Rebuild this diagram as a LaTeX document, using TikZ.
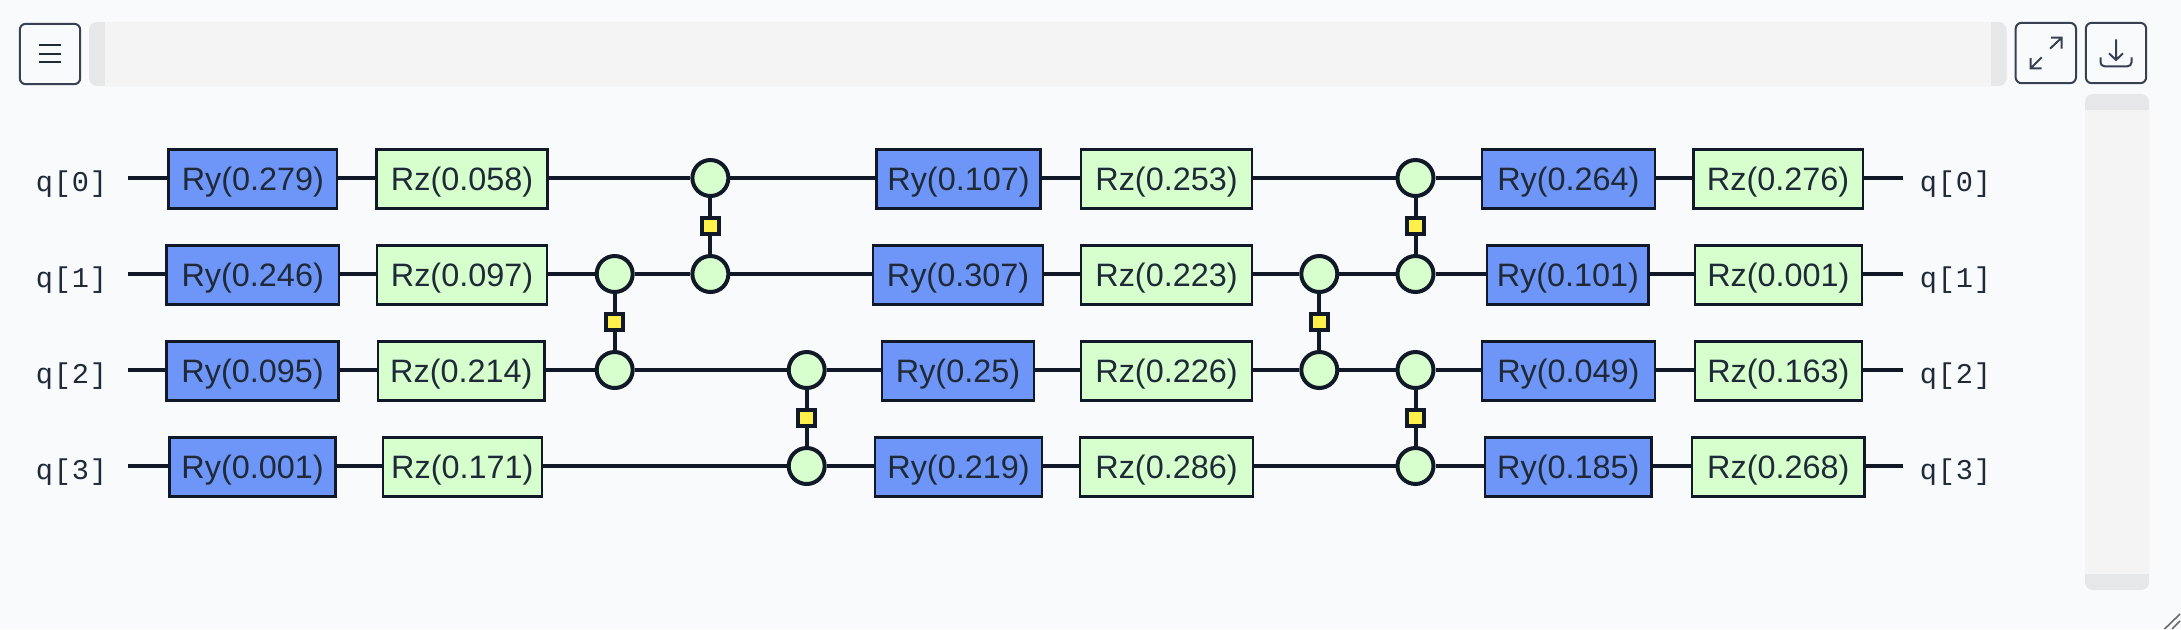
\documentclass[tikz,border=0pt]{standalone}
\usepackage{fontspec}
\usetikzlibrary{calc}
\setmainfont{Liberation Sans}
\newfontfamily\labelmono[LetterSpace=3]{Liberation Mono}
\definecolor{bgc}{HTML}{F9FAFC}
\definecolor{ink}{HTML}{111827}
\definecolor{txt}{HTML}{1F2937}
\definecolor{btn}{HTML}{374151}
\definecolor{bluec}{HTML}{6E96F8}
\definecolor{greenc}{HTML}{D7FFCD}
\definecolor{yellowc}{HTML}{FFF14A}
\definecolor{trackc}{HTML}{F4F4F4}
\definecolor{capc}{HTML}{E6E7E9}
\definecolor{gripc}{HTML}{6B6B6B}
\tikzset{
  x=0.5pt,y=-0.5pt,
  gatebox/.style={draw=ink,line width=1.2pt,rectangle,inner sep=0pt,minimum height=59*0.5pt,
    text=txt,font=\fontsize{16.2pt}{18pt}\selectfont,text height=11.5pt,text depth=0pt,align=center},
  rygate/.style={gatebox,fill=bluec},
  rzgate/.style={gatebox,fill=greenc},
  ctrl/.style={circle,draw=ink,line width=2pt,fill=greenc,inner sep=0pt,minimum size=18pt},
  link/.style={rectangle,draw=ink,line width=2pt,fill=yellowc,inner sep=0pt,minimum width=8.5pt,minimum height=8pt},
  wire/.style={draw=ink,line width=2pt},
  qlabel/.style={inner sep=0pt,text=txt,font=\labelmono\fontsize{14.3pt}{18pt}\selectfont,text height=9.6pt,text depth=0pt},
  tool/.style={rectangle,rounded corners=3pt,draw=btn,line width=1pt,inner sep=0pt,minimum width=30.2pt,minimum height=30.2pt},
  icon/.style={draw=btn,line width=1pt},
  iconb/.style={draw=txt,line width=1pt},
}
\newcommand{\gate}[6]{% name, x1, x2, row y, style, text
  \node[#5,minimum width={(#3-#2-2.4)*0.5pt}] (#1) at ({(#2+#3)/2},#4+0.8) {#6};
}
\begin{document}
\begin{tikzpicture}
\useasboundingbox (0,0) rectangle (2181,629);
\fill[bgc] (0,0) rectangle (2181,629);

% top scroll track
\fill[capc,rounded corners=4pt] (89,22) rectangle (2006.7,86);
\fill[trackc] (105,22) rectangle (1991,86);
% side scroll track
\fill[capc,rounded corners=4pt] (2085,94) rectangle (2149,590);
\fill[trackc] (2085,110) rectangle (2149,574);

% toolbar buttons
\node[tool] (menu) at (50,54) {};
\node[tool] (expand) at (2045.8,53) {};
\node[tool] (save) at (2116,53) {};
\draw[iconb] (39.3,45) -- (60.7,45) (39.3,53.5) -- (60.7,53.5) (39.3,62) -- (60.7,62);
\draw[icon] (2050,48.7) -- (2061.7,37.7) (2051,37.7) -- (2061.7,37.7) -- (2061.7,48.5);
\draw[icon] (2041.7,57.3) -- (2030.7,68.3) (2030.7,58) -- (2030.7,68.3) -- (2041.5,68.3);
\draw[icon] (2116,39.3) -- (2116,60) (2109,53.3) -- (2116,60) -- (2123,53.3);
\draw[icon,rounded corners=2pt] (2100.5,57.3) -- (2100.5,66.3) -- (2131.5,66.3) -- (2131.5,57.3);

% resize grip
\draw[gripc,line width=0.8pt] (2180,614) -- (2164.5,629) (2180,621) -- (2172,629);

% wire ends
\foreach \r/\y in {0/178,1/274,2/370,3/466}{
  \coordinate (in\r) at (128,\y);
  \coordinate (out\r) at (1903,\y);
  \node[qlabel,anchor=base west] (ql\r) at (35.5,\y+13.5) {q[\r]};
  \node[qlabel,anchor=base west] (qr\r) at (1919.5,\y+13.5) {q[\r]};
}

% row 0
\gate{a0}{167.4}{338.4}{178}{rygate}{Ry(0.279)}
\gate{b0}{375.4}{548.7}{178}{rzgate}{Rz(0.058)}
\gate{c0}{875.3}{1041.7}{178}{rygate}{Ry(0.107)}
\gate{d0}{1080}{1253}{178}{rzgate}{Rz(0.253)}
\gate{e0}{1480.8}{1656}{178}{rygate}{Ry(0.264)}
\gate{f0}{1692.2}{1864}{178}{rzgate}{Rz(0.276)}
% row 1
\gate{a1}{165.2}{340.2}{274}{rygate}{Ry(0.246)}
\gate{b1}{376}{548}{274}{rzgate}{Rz(0.097)}
\gate{c1}{872}{1044}{274}{rygate}{Ry(0.307)}
\gate{d1}{1080}{1253}{274}{rzgate}{Rz(0.223)}
\gate{e1}{1486}{1649.8}{274}{rygate}{Ry(0.101)}
\gate{f1}{1693.9}{1862.9}{274}{rzgate}{Rz(0.001)}
% row 2
\gate{a2}{165.3}{339.8}{370}{rygate}{Ry(0.095)}
\gate{b2}{377}{545.7}{370}{rzgate}{Rz(0.214)}
\gate{c2}{881}{1035}{370}{rygate}{Ry(0.25)}
\gate{d2}{1080}{1253}{370}{rzgate}{Rz(0.226)}
\gate{e2}{1480.8}{1656}{370}{rygate}{Ry(0.049)}
\gate{f2}{1693.9}{1862.9}{370}{rzgate}{Rz(0.163)}
% row 3
\gate{a3}{168.4}{336.8}{466}{rygate}{Ry(0.001)}
\gate{b3}{381.6}{543}{466}{rzgate}{Rz(0.171)}
\gate{c3}{874}{1043}{466}{rygate}{Ry(0.219)}
\gate{d3}{1079}{1254}{466}{rzgate}{Rz(0.286)}
\gate{e3}{1484}{1652.7}{466}{rygate}{Ry(0.185)}
\gate{f3}{1691}{1865.7}{466}{rzgate}{Rz(0.268)}

% controls
\node[ctrl] (p1u) at (614.7,274) {};
\node[ctrl] (p1d) at (614.7,370) {};
\node[ctrl] (p2u) at (710.4,178) {};
\node[ctrl] (p2d) at (710.4,274) {};
\node[ctrl] (p3u) at (806.7,370) {};
\node[ctrl] (p3d) at (806.7,466) {};
\node[ctrl] (p4u) at (1319.3,274) {};
\node[ctrl] (p4d) at (1319.3,370) {};
\node[ctrl] (p5u) at (1415.5,178) {};
\node[ctrl] (p5d) at (1415.5,274) {};
\node[ctrl] (p6u) at (1415.5,370) {};
\node[ctrl] (p6d) at (1415.5,466) {};

% horizontal connectors
\draw[wire] (in0) -- (a0.west|-in0) (a0.east|-in0) -- (b0.west|-in0) (b0.east|-in0) -- (p2u.west)
  (p2u.east) -- (c0.west|-in0) (c0.east|-in0) -- (d0.west|-in0) (d0.east|-in0) -- (p5u.west)
  (p5u.east) -- (e0.west|-in0) (e0.east|-in0) -- (f0.west|-in0) (f0.east|-in0) -- (out0);
\draw[wire] (in1) -- (a1.west|-in1) (a1.east|-in1) -- (b1.west|-in1) (b1.east|-in1) -- (p1u.west)
  (p1u.east) -- (p2d.west) (p2d.east) -- (c1.west|-in1) (c1.east|-in1) -- (d1.west|-in1)
  (d1.east|-in1) -- (p4u.west) (p4u.east) -- (p5d.west) (p5d.east) -- (e1.west|-in1)
  (e1.east|-in1) -- (f1.west|-in1) (f1.east|-in1) -- (out1);
\draw[wire] (in2) -- (a2.west|-in2) (a2.east|-in2) -- (b2.west|-in2) (b2.east|-in2) -- (p1d.west)
  (p1d.east) -- (p3u.west) (p3u.east) -- (c2.west|-in2) (c2.east|-in2) -- (d2.west|-in2)
  (d2.east|-in2) -- (p4d.west) (p4d.east) -- (p6u.west) (p6u.east) -- (e2.west|-in2)
  (e2.east|-in2) -- (f2.west|-in2) (f2.east|-in2) -- (out2);
\draw[wire] (in3) -- (a3.west|-in3) (a3.east|-in3) -- (b3.west|-in3) (b3.east|-in3) -- (p3d.west)
  (p3d.east) -- (c3.west|-in3) (c3.east|-in3) -- (d3.west|-in3) (d3.east|-in3) -- (p6d.west)
  (p6d.east) -- (e3.west|-in3) (e3.east|-in3) -- (f3.west|-in3) (f3.east|-in3) -- (out3);

% vertical couplers
\foreach \p in {1,...,6}{
  \draw[wire] (p\p u) -- (p\p d);
  \node[link] (s\p) at ($(p\p u)!0.5!(p\p d)$) {};
}
\end{tikzpicture}
\end{document}
